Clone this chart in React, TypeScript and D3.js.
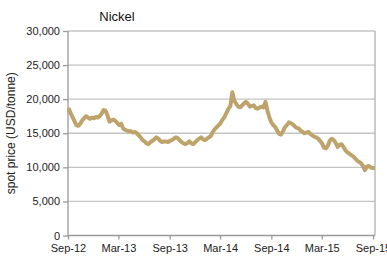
import { useEffect, useRef } from 'react';
import * as d3 from 'd3';

// weekly spot price, thousand USD/tonne, starting first week of Sep 2012
const prices = [
  18.7, 18.0, 17.4, 16.8, 16.2, 16.1, 16.4, 16.9, 17.2, 17.5,
  17.3, 17.1, 17.3, 17.2, 17.4, 17.3, 17.5, 17.9, 18.4, 18.3,
  17.6, 16.7, 16.9, 17.0, 16.8, 16.5, 16.2, 16.4, 15.7, 15.5,
  15.4, 15.3, 15.3, 15.1, 15.2, 15.0, 14.7, 14.4, 14.0, 13.8,
  13.5, 13.4, 13.7, 13.9, 14.1, 14.4, 14.2, 13.9, 13.7, 13.8,
  13.8, 13.7, 13.9, 14.0, 14.2, 14.4, 14.3, 14.0, 13.7, 13.5,
  13.4, 13.6, 13.8, 13.5, 13.4, 13.7, 14.0, 14.2, 14.4, 14.1,
  14.0, 14.2, 14.4, 14.6, 15.2, 15.6, 15.9, 16.2, 16.5, 17.0,
  17.4, 18.0, 18.6, 19.0, 21.0, 19.8, 19.3, 18.9, 18.8, 19.1,
  19.4, 19.6, 19.3, 18.9, 19.0, 19.1, 18.7, 18.6, 18.8, 18.9,
  18.8, 19.6, 18.3, 17.3, 16.6, 16.2, 15.9, 15.4, 14.9, 14.8,
  15.3, 15.9, 16.2, 16.6, 16.5, 16.3, 16.0, 15.8, 15.7, 15.4,
  15.2, 15.0, 15.1, 15.2, 14.9, 14.7, 14.5, 14.4, 14.2, 13.9,
  13.5, 12.9, 12.8, 13.2, 13.9, 14.2, 14.0, 13.6, 13.0, 13.3,
  13.4, 13.0, 12.5, 12.2, 12.0, 11.8, 11.6, 11.3, 11.0, 10.8,
  10.6, 10.2, 9.6, 10.1, 10.2, 10.0, 9.9, 9.9,
];

const tickDates = ['2012-09-01', '2013-03-01', '2013-09-01', '2014-03-01', '2014-09-01', '2015-03-01', '2015-09-01'];
const tickLabels = ['Sep-12', 'Mar-13', 'Sep-13', 'Mar-14', 'Sep-14', 'Mar-15', 'Sep-15'];
const yTicks = [0, 5000, 10000, 15000, 20000, 25000, 30000];

export default function App() {
  const svgRef = useRef<SVGSVGElement>(null);

  useEffect(() => {
    if (!svgRef.current) return;
    const svg = d3.select(svgRef.current);
    svg.selectAll('*').remove();

    const left = 68, right = 375, top = 31, bottom = 235.5;
    const font = "'Liberation Sans', Arial, sans-serif";

    const start = new Date(2012, 8, 3);
    const data = prices.map((p, i) => ({ date: d3.timeDay.offset(start, i * 7), v: p * 1000 }));
    const ticks = tickDates.map((d) => d3.timeParse('%Y-%m-%d')(d)!);

    const x = d3.scaleTime().domain([ticks[0], ticks[ticks.length - 1]]).range([left, 373]);
    const y = d3.scaleLinear().domain([0, 30000]).range([bottom, top]);

    // gridlines
    svg.append('g')
      .selectAll('line')
      .data(yTicks.filter((t) => t > 0))
      .join('line')
      .attr('x1', left).attr('x2', right)
      .attr('y1', (d) => y(d)).attr('y2', (d) => y(d))
      .attr('stroke', '#c4c4c4').attr('stroke-width', 1.3);

    // right frame
    svg.append('line')
      .attr('x1', right).attr('x2', right).attr('y1', top).attr('y2', bottom)
      .attr('stroke', '#b0b0b0').attr('stroke-width', 1.3);

    const yAxis = svg.append('g')
      .attr('transform', `translate(${left},0)`)
      .call(d3.axisLeft(y).tickValues(yTicks).tickSize(5).tickPadding(3).tickFormat(d3.format(',')));
    yAxis.selectAll('text').attr('font-size', 11).attr('font-family', font).attr('fill', '#222');

    const xAxis = svg.append('g')
      .attr('transform', `translate(0,${bottom})`)
      .call(d3.axisBottom(x).tickValues(ticks).tickSize(4).tickPadding(5).tickFormat((_, i) => tickLabels[i]));
    xAxis.selectAll('text').attr('font-size', 11).attr('font-family', font).attr('fill', '#222');

    [yAxis, xAxis].forEach((a) => {
      a.selectAll('path, line').attr('stroke', '#9a9a9a').attr('stroke-width', 1.3);
    });
    yAxis.select('.domain').attr('d', `M0,${top}V${bottom}`);
    xAxis.select('.domain').attr('d', `M${left},0H${right}`);

    svg.append('path')
      .datum(data)
      .attr('fill', 'none')
      .attr('stroke', '#bea46c')
      .attr('stroke-width', 4)
      .attr('stroke-linejoin', 'round')
      .attr('d', d3.line<{ date: Date; v: number }>().x((d) => x(d.date)).y((d) => y(d.v)));

    svg.append('text')
      .attr('x', 117).attr('y', 21)
      .attr('text-anchor', 'middle')
      .attr('font-family', font).attr('font-size', 13).attr('fill', '#111')
      .text('Nickel');

    svg.append('text')
      .attr('transform', `translate(15,${(top + bottom) / 2}) rotate(-90)`)
      .attr('text-anchor', 'middle')
      .attr('font-family', font).attr('font-size', 12).attr('fill', '#222')
      .text('spot price (USD/tonne)');
  }, []);

  return (
    <svg
      ref={svgRef}
      width={387}
      height={257}
      style={{ position: 'absolute', left: 0, top: 0, background: '#fff' }}
    />
  );
}
